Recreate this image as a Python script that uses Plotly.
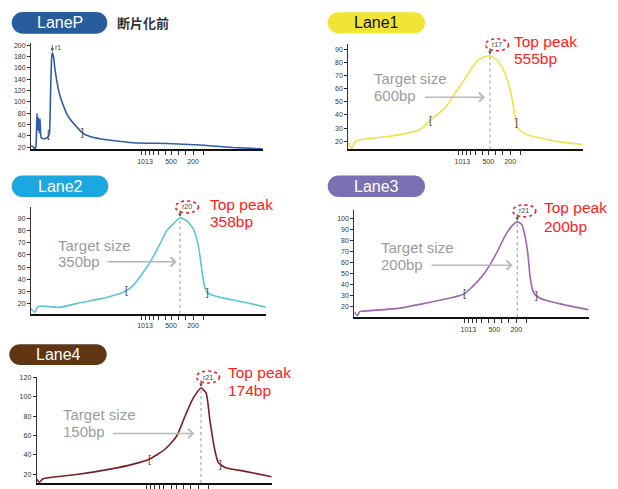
import numpy as np
import plotly.graph_objects as go

W, H = 618, 489

# ---------------- data ----------------
lane_names = ["LaneP", "Lane1", "Lane2", "Lane3", "Lane4"]
peak_labels = ["r1", "r17", "r20", "r21", "r21"]
top_peak_sizes = [None, "555bp", "358bp", "200bp", "174bp"]
target_sizes = [None, "600bp", "350bp", "200bp", "150bp"]

size_tick_pos = [110, 114, 118, 122.5, 127, 134.5, 140, 147, 154, 162, 172]
size_tick_text = ["", "1013", "", "", "", "", "500", "", "", "200", ""]

laneP_x = [0, 2, 4, 5, 6, 6.7, 7.5, 8.3, 9, 10, 12, 15, 17, 18.5, 19.5, 20.5, 21.3, 22.5, 24, 25.7,
           27.3, 29.5, 32.3, 35.5, 39, 45.7, 52.3, 59, 69, 85, 102, 136, 169, 202, 232]
laneP_y = [22, 21, 17, 22, 80, 50, 72, 45, 70, 38, 35, 36, 38, 45, 110, 175, 187, 180, 157, 138,
           123, 108, 94, 80, 70, 56, 44, 39, 35, 31, 28, 26.5, 24, 19.5, 17]

lane1_x = [0, 3.4, 6.7, 10, 35, 51.7, 70, 78.4, 81.7, 91.7, 98.4, 105, 118.4, 128.4, 136.7, 141.7,
           148.4, 155, 161.7, 165, 167.7, 170, 178.4, 191.7, 211.7, 234.4]
lane1_y = [19.5, 14.5, 19.5, 20.8, 23.2, 25, 28.3, 33.2, 35.8, 42, 47, 54.5, 69.5, 80.8, 84.5, 85,
           82, 74.5, 59.5, 47, 34.5, 29.5, 25, 22.5, 19.5, 17.5]

lane2_x = [0, 4, 6.3, 9, 29, 49, 69, 79, 92.3, 95.7, 102.3, 112.3, 119, 129, 135.7, 142.3, 149,
           155.7, 162.3, 167.3, 170.7, 173, 175.7, 182.3, 199, 215.7, 234.7]
lane2_y = [15.9, 13.1, 17.2, 18, 17.2, 20.8, 24, 26, 29.5, 30.9, 35, 45.8, 54, 69, 79.9, 85.4, 90.3,
           88, 81.3, 67.6, 48.6, 36.3, 29.5, 26.8, 23.5, 20.8, 17.2]

lane3_x = [0, 3, 5.7, 10.7, 45.7, 75.7, 92.4, 105.7, 110, 115.7, 122.4, 130.7, 140.7, 150.7, 157.4,
           163, 167.4, 170.7, 173.4, 175.7, 179, 185.7, 205.7, 234.4]
lane3_y = [14.8, 11.8, 15.5, 15.8, 18.5, 23.9, 27, 30, 31.5, 36, 42, 51, 66.2, 84.3, 93.4,
           97.3, 94.9, 84.3, 69.2, 48.1, 33, 27.5, 22.4, 17]

lane4_x = [0, 2.6, 6, 10, 43.3, 73.3, 96.6, 112.6, 128.3, 140, 148.3, 156.6, 164.3, 169.3, 173.3,
           177.6, 181.6, 188.3, 208.3, 235]
lane4_y = [14.9, 11.5, 14.9, 15.9, 20, 25.1, 30.3, 35.4, 45.7, 59.4, 79.9, 98.8, 109.1, 104, 74.8,
           47.4, 32, 26.9, 22.8, 17.3]

bracket_left = [17.8, 81.7, 95, 110, 112.6]
bracket_right = [51, 167.7, 176.3, 182.4, 184]

ytick_sets = [
    [20, 40, 60, 80, 100, 120, 140, 160, 180, 200],
    [20, 30, 40, 50, 60, 70, 80, 90],
    [20, 30, 40, 50, 60, 70, 80, 90],
    [20, 30, 40, 50, 60, 70, 80, 90, 100],
    [20, 40, 60, 80, 100, 120],
]
y_ranges = [[16, 203.5], [13.7, 93.7], [11.8, 99], [10.3, 108.5], [10.7, 120.9]]

curves_x = [laneP_x, lane1_x, lane2_x, lane3_x, lane4_x]
curves_y = [laneP_y, lane1_y, lane2_y, lane3_y, lane4_y]

# ---------------- styling / layout ----------------
line_colors = ["#2f5daa", "#ece347", "#5cc6d6", "#a264b3", "#7a1f24"]
pill_colors = ["#275d9c", "#f1e435", "#1ba7df", "#7a70b3", "#5f3513"]
pill_text_colors = ["white", "#111111", "white", "white", "white"]
smooth = [0.3, 0.6, 0.6, 0.6, 0.6]
show_xlabels = [True, True, True, True, False]
# plot boxes in pixels: left, right, top, bottom
boxes = [(31, 263, 40.7, 147.7), (348.3, 582.7, 41.7, 147.7), (31, 265.7, 206, 313.3),
         (354.3, 588.7, 208.3, 316.7), (36.7, 271.7, 376.7, 484)]
pills = [(11.7, 9, 107.3, 31), (327.7, 9.3, 425, 30.7), (11.7, 174, 108.3, 195.7),
         (327.7, 174, 425, 195.7), (9.3, 344, 106.7, 365)]
# text positions (px): target line1 (x, y), target line2 y, top-peak (x, y), line2 y
target_pos = [None, (373.3, 76.3, 93.6), (57.3, 244.6, 260.2), (380, 246.3, 263.4), (61.7, 415.3, 431.9)]
top_pos = [None, (513.3, 38.8, 56.1), (209.3, 203, 220.2), (543.3, 206.3, 225.4), (226.7, 372.8, 390.4)]
arrow_pos = [None, (423.3, 485, 95), (106, 176.7, 261), (430, 512.7, 264.3), (111.7, 194.3, 434)]


def px(x):
    return x / W


def py(y):
    return 1 - y / H


def pill_path(x0, y0, x1, y1):
    r = (y1 - y0) / 2
    k = 0.5523 * r
    pts = [
        ("M", [(x0 + r, y0)]),
        ("L", [(x1 - r, y0)]),
        ("C", [(x1 - r + k, y0), (x1, y0 + r - k), (x1, y0 + r)]),
        ("C", [(x1, y0 + r + k), (x1 - r + k, y1), (x1 - r, y1)]),
        ("L", [(x0 + r, y1)]),
        ("C", [(x0 + r - k, y1), (x0, y0 + r + k), (x0, y0 + r)]),
        ("C", [(x0, y0 + r - k), (x0 + r - k, y0), (x0 + r, y0)]),
    ]
    s = ""
    for cmd, ps in pts:
        s += cmd + " " + " ".join(f"{px(a):.5f},{py(b):.5f}" for a, b in ps) + " "
    return s + "Z"


fig = go.Figure()
shapes = []
annotations = []
tick_font = dict(family="Liberation Sans Narrow, Arial Narrow, Arial", size=7, color="#333333")

for i in range(5):
    sfx = "" if i == 0 else str(i + 1)
    xa, ya = "x" + sfx, "y" + sfx
    l, r, t, b = boxes[i]
    y_lo, y_hi = y_ranges[i]
    xs = np.array(curves_x[i], dtype=float)
    ys = np.array(curves_y[i], dtype=float)

    fig.add_trace(go.Scatter(x=xs, y=ys, mode="lines", xaxis=xa, yaxis=ya,
                             line=dict(color=line_colors[i], width=1.6, shape="spline",
                                       smoothing=smooth[i]),
                             hoverinfo="skip", showlegend=False))

    fig.layout["xaxis" + sfx] = dict(
        domain=[px(l), px(r)], anchor=ya, range=[0, r - l], showline=True, linecolor="#111111",
        linewidth=2, ticks="outside", ticklen=4, tickwidth=1, tickcolor="#333333",
        tickvals=size_tick_pos,
        ticktext=size_tick_text if show_xlabels[i] else [""] * len(size_tick_pos),
        tickfont=tick_font, showgrid=False, zeroline=False, fixedrange=True)
    fig.layout["yaxis" + sfx] = dict(
        domain=[py(b), py(t)], anchor=xa, range=y_ranges[i], showline=True, linecolor="#333333",
        linewidth=1, ticks="outside", ticklen=3, tickwidth=1, tickcolor="#333333",
        tickvals=ytick_sets[i], tickfont=tick_font, showgrid=False, zeroline=False, fixedrange=True)

    # pill label
    x0, y0, x1, y1 = pills[i]
    shapes.append(dict(type="path", xref="paper", yref="paper", path=pill_path(x0, y0, x1, y1),
                       fillcolor=pill_colors[i], line=dict(width=0), layer="below"))
    annotations.append(dict(xref="paper", yref="paper", x=px((x0 + x1) / 2), y=py((y0 + y1) / 2),
                            text=lane_names[i], showarrow=False, xanchor="center", yanchor="middle",
                            font=dict(family="Arial", size=16, color=pill_text_colors[i])))

    # peak
    k = int(np.argmax(ys))
    pk_x, pk_y = xs[k], ys[k]
    # peak position in paper units (through the axis scale)
    pk_px = px(l + pk_x * (r - l) / (r - l))
    pk_py = py(b - (pk_y - y_lo) / (y_hi - y_lo) * (b - t))
    annotations.append(dict(xref=xa, yref=ya, x=pk_x, y=pk_y, ax=0, ay=-9, text="", showarrow=True,
                            arrowhead=2, arrowsize=0.7, arrowwidth=1, arrowcolor="#555555", standoff=1))
    if i == 0:
        sx, sy = 6, 5
    else:
        sx, sy = 7, 11
    annotations.append(dict(xref=xa, yref=ya, x=pk_x, y=pk_y, xshift=sx, yshift=sy, text=peak_labels[i],
                            showarrow=False, xanchor="center", yanchor="middle",
                            font=dict(family="Arial", size=7, color="#444444")))

    # brackets
    for bx, ch in ((bracket_left[i], "["), (bracket_right[i], "]")):
        annotations.append(dict(xref=xa, yref=ya, x=bx, y=float(np.interp(bx, xs, ys)), text=ch,
                                showarrow=False, xanchor="center", yanchor="middle",
                                font=dict(family="Arial", size=10, color="#444444")))

    if i > 0:
        # dotted peak line
        shapes.append(dict(type="line", xref=xa, yref=ya, x0=pk_x, x1=pk_x, y0=y_lo, y1=pk_y,
                           line=dict(color="#aaaaaa", width=1.2, dash="dot")))
        # red dotted ellipse around peak label
        shapes.append(dict(type="circle", xref="paper", yref="paper", xsizemode="pixel",
                           ysizemode="pixel", xanchor=pk_px, yanchor=pk_py,
                           x0=sx - 11.5, x1=sx + 11.5, y0=sy - 6, y1=sy + 6,
                           line=dict(color="#ee2222", width=1.6, dash="dot")))
        # target size text
        tx, ty1, ty2 = target_pos[i]
        for txt, yy in (("Target size", ty1), (target_sizes[i], ty2)):
            annotations.append(dict(xref="paper", yref="paper", x=px(tx), y=py(yy), text=txt,
                                    showarrow=False, xanchor="left", yanchor="middle", borderpad=0,
                                    font=dict(family="Arial", size=15, color="#9c9c9c")))
        ax0, ax1, ay = arrow_pos[i]
        annotations.append(dict(xref="paper", yref="paper", x=px(ax1), y=py(ay), ax=ax0 - ax1, ay=0,
                                text="", showarrow=True, arrowhead=4, arrowsize=1.2, arrowwidth=1.5,
                                arrowcolor="#b8b8b8"))
        # top peak text
        qx, qy1, qy2 = top_pos[i]
        for txt, yy in (("Top peak", qy1), (top_peak_sizes[i], qy2)):
            annotations.append(dict(xref="paper", yref="paper", x=px(qx), y=py(yy), text=txt,
                                    showarrow=False, xanchor="left", yanchor="middle", borderpad=0,
                                    font=dict(family="Arial", size=15.5, color="#ff2020")))

annotations.append(dict(xref="paper", yref="paper", x=px(115), y=py(20), text="<b>断片化前</b>",
                        showarrow=False, xanchor="left", yanchor="middle",
                        font=dict(family="Noto Sans CJK JP", size=13, color="#333333")))

fig.update_layout(width=W, height=H, margin=dict(l=0, r=0, t=0, b=0),
                  paper_bgcolor="white", plot_bgcolor="white",
                  shapes=shapes, annotations=annotations, showlegend=False)

fig.write_html("out.html", config={"displayModeBar": False},
               post_script="document.body.style.margin='0';")
